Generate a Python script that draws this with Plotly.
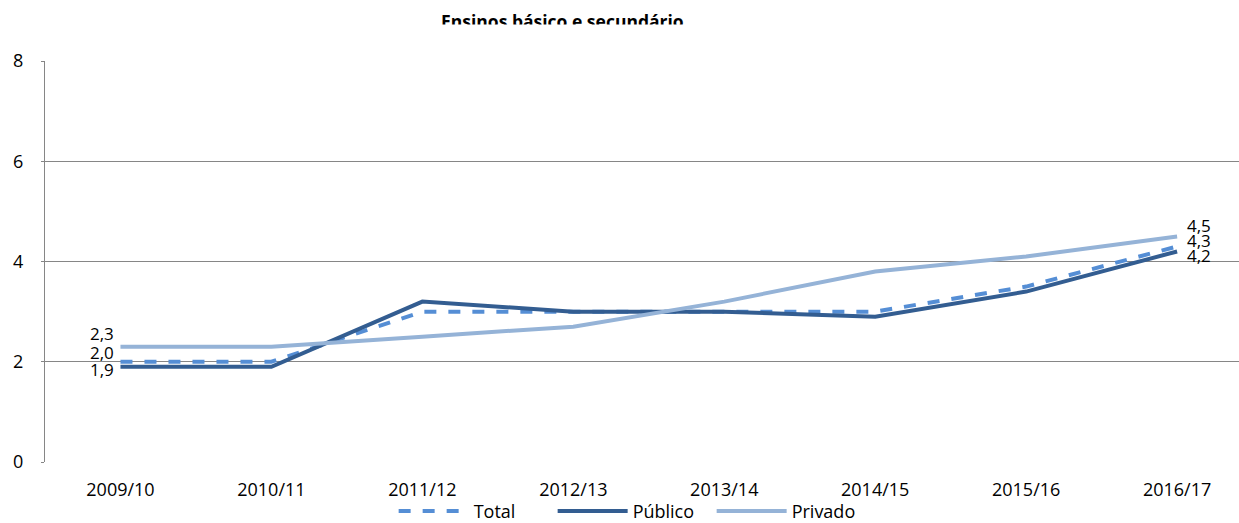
import plotly.graph_objects as go

categories = ["2009/10", "2010/11", "2011/12", "2012/13", "2013/14", "2014/15", "2015/16", "2016/17"]
total = [2.0, 2.0, 3.0, 3.0, 3.0, 3.0, 3.5, 4.3]
publico = [1.9, 1.9, 3.2, 3.0, 3.0, 2.9, 3.4, 4.2]
privado = [2.3, 2.3, 2.5, 2.7, 3.2, 3.8, 4.1, 4.5]
title_text = "Ensinos básico e secundário"

FONT = "Open Sans"
c_total = "#558ed5"
c_pub = "#335d91"
c_priv = "#95b3d7"

fig = go.Figure()
fig.add_trace(go.Scatter(x=categories, y=total, name="Total", mode="lines",
                         line=dict(color=c_total, width=4, dash="dash")))
fig.add_trace(go.Scatter(x=categories, y=publico, name="Público", mode="lines",
                         line=dict(color=c_pub, width=4)))
fig.add_trace(go.Scatter(x=categories, y=privado, name="Privado", mode="lines",
                         line=dict(color=c_priv, width=4)))

def fmt(v):
    return f"{v:.1f}".replace(".", ",")

# data labels at first and last points (pixel offsets)
first_shift = {"Total": 9, "Público": -3, "Privado": 13}
last_shift = {"Total": 6, "Público": -4, "Privado": 11}
for name, ys in [("Total", total), ("Público", publico), ("Privado", privado)]:
    fig.add_annotation(x=categories[0], y=ys[0], text=fmt(ys[0]), showarrow=False,
                       xanchor="right", yanchor="middle", xshift=-4, yshift=first_shift[name],
                       font=dict(family=FONT, size=17, color="#000000"))
    fig.add_annotation(x=categories[-1], y=ys[-1], text=fmt(ys[-1]), showarrow=False,
                       xanchor="left", yanchor="middle", xshift=8, yshift=last_shift[name],
                       font=dict(family=FONT, size=17, color="#000000"))

# title, clipped at bottom as in the reference
fig.add_annotation(xref="paper", yref="paper", x=0.433, y=1.0, yshift=40, text=f"<b>{title_text}</b>",
                   showarrow=False, xanchor="center", yanchor="middle",
                   font=dict(family=FONT, size=17.5, color="#000000"))
fig.add_annotation(xref="paper", yref="paper", x=0.433, y=1.0, yshift=24, text=" ",
                   showarrow=False, xanchor="center", yanchor="middle", width=340, height=22,
                   bgcolor="#ffffff", font=dict(size=12))

fig.update_layout(
    width=1239, height=523,
    margin=dict(l=45, r=0, t=61, b=61, autoexpand=False),
    paper_bgcolor="#ffffff", plot_bgcolor="#ffffff",
    font=dict(family=FONT, size=18, color="#000000"),
    showlegend=True,
    legend=dict(orientation="h", x=0.292, xanchor="left", y=-0.123, yanchor="middle",
                font=dict(family=FONT, size=18), tracegroupgap=0,
                bgcolor="rgba(0,0,0,0)", itemwidth=70, entrywidth=74),
    xaxis=dict(type="category", range=[-0.5, 7.41], showgrid=False, showline=False,
               ticks="", tickfont=dict(family=FONT, size=18), zeroline=False,
               ticklabelstandoff=15),
    yaxis=dict(range=[0, 8], tickvals=[0, 2, 4, 6, 8], showgrid=True, gridcolor="#868686",
               gridwidth=1, showline=True, linecolor="#868686", linewidth=1,
               ticks="outside", ticklen=3, tickcolor="#868686", zeroline=False,
               tickfont=dict(family=FONT, size=18), ticklabelstandoff=14),
)

fig.write_html("out.html", config={"displayModeBar": False},
               post_script="document.body.style.margin='0';document.body.style.overflow='hidden';")
